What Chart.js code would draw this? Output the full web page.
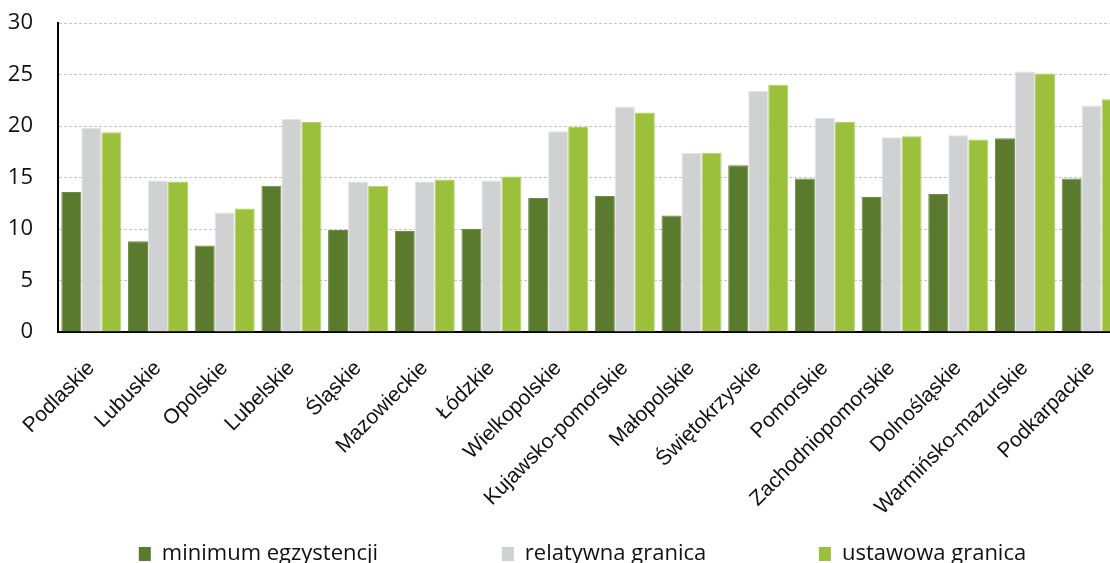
<!DOCTYPE html>
<html>
<head>
<meta charset="utf-8">
<script src="https://cdn.jsdelivr.net/npm/chart.js@4/dist/chart.umd.min.js"></script>
<style>
  html, body { margin: 0; padding: 0; background: #fff; overflow: hidden; }
  #wrap { width: 1130px; height: 575px; }
</style>
</head>
<body>
<div id="wrap"><canvas id="myChart" width="1130" height="575"></canvas></div>
<script>
var regions = ["Podlaskie", "Lubuskie", "Opolskie", "Lubelskie", "Śląskie", "Mazowieckie", "Łódzkie",
  "Wielkopolskie", "Kujawsko-pomorskie", "Małopolskie", "Świętokrzyskie", "Pomorskie",
  "Zachodniopomorskie", "Dolnośląskie", "Warmińsko-mazurskie", "Podkarpackie"];

var minimumEgz = [13.6, 8.8, 8.4, 14.2, 9.9, 9.8, 10.0, 13.0, 13.2, 11.3, 16.2, 14.9, 13.1, 13.4, 18.8, 14.9];
var relatywna  = [19.8, 14.7, 11.6, 20.7, 14.6, 14.6, 14.7, 19.5, 21.9, 17.4, 23.4, 20.8, 18.9, 19.1, 25.3, 22.0];
var ustawowa   = [19.4, 14.6, 12.0, 20.4, 14.2, 14.8, 15.1, 19.9, 21.3, 17.4, 24.0, 20.4, 19.0, 18.7, 25.1, 22.6];

var yTicks = [0, 5, 10, 15, 20, 25, 30];

// spacing after each legend entry
var legendGaps = ['\u2003\u2003\u2003\u2003\u2003\u2009', '\u2003\u2003\u2003\u2003\u2002\u2009', ''];

// nudge the legend a little to the right, like in the original
var legendShift = {
  id: 'legendShift',
  afterLayout: function(chart) {
    chart.legend.left += 20;
    chart.legend.right += 20;
  }
};

var ctx = document.getElementById("myChart");
var myChart = new Chart(ctx, {
  type: 'bar',
  data: {
    labels: regions,
    datasets: [
      { label: "minimum egzystencji", data: minimumEgz, backgroundColor: "#5a7a2e", borderColor: "#6f8c46", borderWidth: 1 },
      { label: "relatywna granica", data: relatywna, backgroundColor: "#d0d1d3", borderColor: "#e2e3e4", borderWidth: 1 },
      { label: "ustawowa granica", data: ustawowa, backgroundColor: "#9bc13c", borderColor: "#b3d266", borderWidth: 1 }
    ]
  },
  plugins: [legendShift],
  options: {
    responsive: false,
    animation: false,
    layout: { padding: { top: 23, right: 5, left: 0, bottom: 0 } },
    datasets: { bar: { categoryPercentage: 0.9, barPercentage: 1.0 } },
    plugins: {
      tooltip: { enabled: false },
      legend: {
        position: 'bottom',
        labels: {
          boxWidth: 12,
          boxHeight: 14,
          padding: 10,
          color: '#111',
          font: { family: "'Open Sans'", size: 22 },
          generateLabels: function(chart) {
            var items = Chart.defaults.plugins.legend.labels.generateLabels(chart);
            items.forEach(function(it, i) {
              it.lineWidth = 0;
              it.text = it.text + legendGaps[i];
            });
            return items;
          }
        }
      }
    },
    scales: {
      x: {
        grid: { display: false },
        border: { display: true, color: '#000', width: 2 },
        ticks: {
          color: '#111',
          font: { family: "'Liberation Sans'", size: 21 },
          minRotation: 45,
          maxRotation: 45,
          padding: 16
        },
        afterFit: function(s) { s.height = 201; s.paddingTop = 0; }
      },
      y: {
        min: 0,
        max: 30,
        afterBuildTicks: function(s) { s.ticks = yTicks.map(function(v) { return { value: v }; }); },
        grid: { color: '#c4c4c4', lineWidth: 1, drawTicks: false },
        border: { display: true, color: '#000', width: 2, dash: [3, 2] },
        ticks: {
          color: '#111',
          font: { family: "'Open Sans'", size: 22 },
          padding: 25
        },
        afterFit: function(s) { s.width = 58; s.paddingTop = 0; s.paddingBottom = 0; }
      }
    }
  }
});
</script>
</body>
</html>
